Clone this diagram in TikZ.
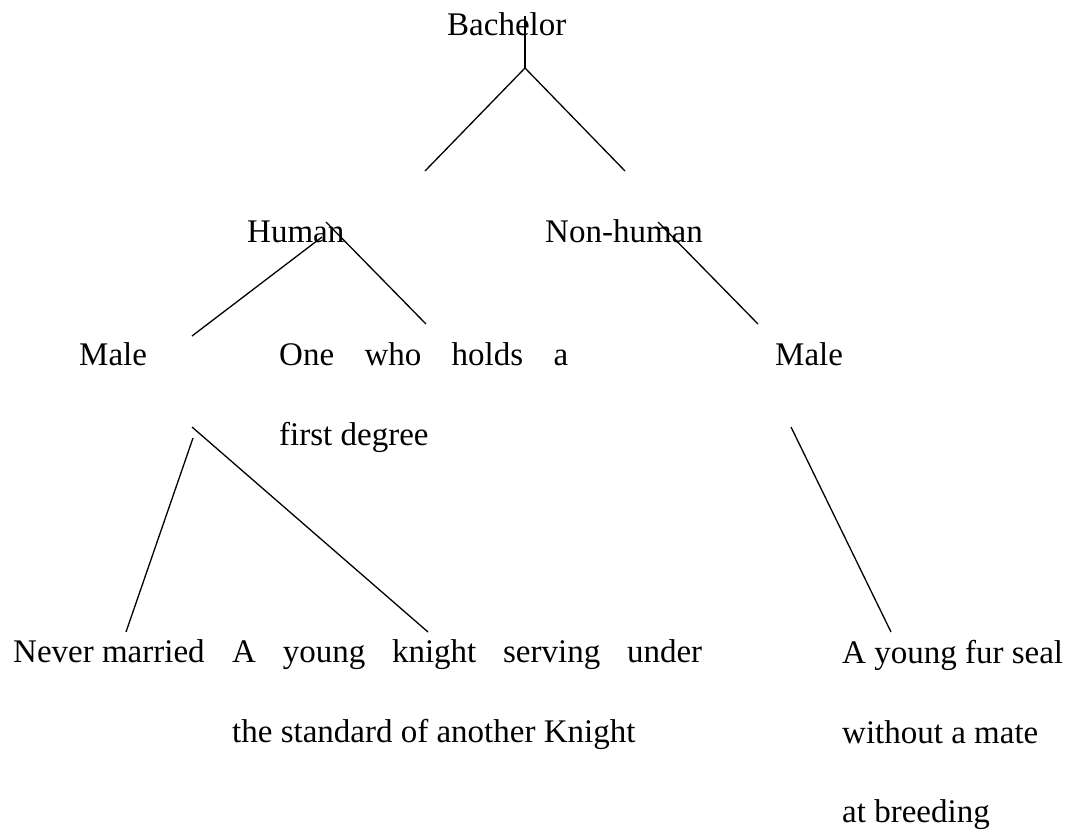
\documentclass[tikz,border=0pt]{standalone}
\usepackage{fontspec}
\setmainfont{Liberation Serif}
\begin{document}
\begin{tikzpicture}[x=1pt,y=-1pt,
  lbl/.style={anchor=base west, inner sep=0pt, font=\fontsize{33}{40}\selectfont},
  conn/.style={line width=1.3pt, line cap=butt, black}]
\useasboundingbox[fill=white] (0,0) rectangle (1076,839);
% texts
\node[lbl] (bach) at (447,35) {Bachelor};
\node[lbl] (human) at (247,242) {Human};
\node[lbl] (nonhuman) at (545,242) {Non-human};
\node[lbl] (male1) at (79,365) {Male};
\node[lbl] (degree1) at (279,365) {\hbox to 289pt{One\hfill who\hfill holds\hfill a}};
\node[lbl] (degree2) at (279,445) {first degree};
\node[lbl] (male2) at (775,365) {Male};
\node[lbl] (never) at (13,662) {Never married};
\node[lbl] (knight1) at (232,662) {\hbox to 470pt{A\hfill young\hfill knight\hfill serving\hfill under}};
\node[lbl] (knight2) at (232,742) {the standard of another Knight};
\node[lbl] (seal1) at (842,663) {A young fur seal};
\node[lbl] (seal2) at (842,743) {without a mate};
\node[lbl] (seal3) at (842,822) {at breeding};
% connector points
\coordinate (bTop) at (525,16);
\coordinate (bFork) at (525,68);
\coordinate (bL) at (425,171);
\coordinate (bR) at (625,171);
\coordinate (hL0) at (322,237);
\coordinate (hL1) at (192,336);
\coordinate (hR0) at (326,222);
\coordinate (hR1) at (426,324);
\coordinate (nR0) at (658,222);
\coordinate (nR1) at (758,324);
\coordinate (mL0) at (193,438);
\coordinate (mL1) at (126,632);
\coordinate (mR0) at (192,427);
\coordinate (mR1) at (428,632);
\coordinate (sR0) at (791,427);
\coordinate (sR1) at (891,632);
% connectors
\draw[conn] (bTop) -- (bFork);
\draw[conn] (bFork) -- (bL);
\draw[conn] (bFork) -- (bR);
\draw[conn] (hL0) -- (hL1);
\draw[conn] (hR0) -- (hR1);
\draw[conn] (nR0) -- (nR1);
\draw[conn] (mL0) -- (mL1);
\draw[conn] (mR0) -- (mR1);
\draw[conn] (sR0) -- (sR1);
\end{tikzpicture}
\end{document}
